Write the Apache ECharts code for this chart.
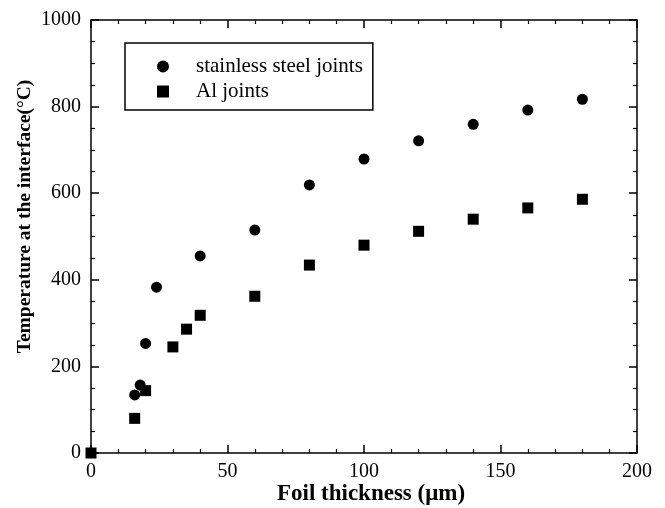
<!DOCTYPE html>
<html>
<head>
<meta charset="utf-8">
<script src="https://cdn.jsdelivr.net/npm/echarts@6/dist/echarts.min.js"></script>
<style>
  html, body { margin: 0; padding: 0; background: #fff; }
  #chart { width: 665px; height: 508px; }
</style>
</head>
<body>
<div id="chart"></div>
<script>
// foil thickness (um) vs temperature at the interface (C)
const steelThickness = [16, 18, 20, 24, 40, 60, 80, 100, 120, 140, 160, 180]
const steelTemp = [134, 157, 253, 383, 455, 515, 619, 679, 721, 759, 792, 817]
const alThickness = [0, 16, 20, 30, 35, 40, 60, 80, 100, 120, 140, 160, 180]
const alTemp = [0, 80, 144, 245, 286, 318, 362, 434, 480, 512, 540, 566, 586]

const serif = 'Liberation Serif'
const black = '#000'

function pairs(xs, ys) {
  return xs.map((x, i) => [x, ys[i]])
}

function frameAxis(extra) {
  return Object.assign({
    type: 'value',
    axisLine: { show: true, onZero: false, lineStyle: { color: black, width: 1.5 } },
    axisTick: { show: true, inside: true, length: 8, lineStyle: { color: black, width: 1.5 } },
    splitLine: { show: false },
    axisLabel: { show: false }
  }, extra)
}

const tickLabel = { color: black, fontFamily: serif, fontSize: 20, formatter: v => String(v) }

const chart = echarts.init(document.getElementById('chart'))
chart.setOption({
  animation: false,
  backgroundColor: '#fff',
  grid: { left: 91, right: 28, top: 20, bottom: 55, containLabel: false, outerBoundsMode: 'none' },
  legend: {
    left: 125,
    top: 43,
    orient: 'vertical',
    backgroundColor: '#fff',
    borderColor: black,
    borderWidth: 1.5,
    padding: [13, 10, 8, 32],
    itemGap: 4,
    itemWidth: 12,
    itemHeight: 12,
    textStyle: { color: black, fontFamily: serif, fontSize: 21, padding: [0, 0, 0, 22] },
    data: [
      { name: 'stainless steel joints', icon: 'circle' },
      { name: 'Al joints', icon: 'rect' }
    ]
  },
  xAxis: [
    frameAxis({
      min: 0, max: 200, interval: 50,
      minorTick: { show: true, splitNumber: 5, length: 4, lineStyle: { color: black, width: 1.2 } },
      axisLabel: Object.assign({ margin: 9 }, tickLabel),
      name: 'Foil thickness (\u03bcm)',
      nameLocation: 'middle',
      nameMoveOverlap: false,
      nameGap: 30,
      nameTextStyle: { color: black, fontFamily: serif, fontSize: 23, fontWeight: 'bold', padding: [0, 0, 0, 14] }
    }),
    frameAxis({
      position: 'top', min: 0, max: 200, interval: 50,
      minorTick: { show: true, splitNumber: 5, length: 4, lineStyle: { color: black, width: 1.2 } }
    })
  ],
  yAxis: [
    frameAxis({
      min: 0, max: 1000, interval: 200,
      minorTick: { show: true, splitNumber: 4, length: 4, lineStyle: { color: black, width: 1.2 } },
      axisLabel: Object.assign({ margin: 10 }, tickLabel),
      name: 'Temperature at the interface(\u00b0C)',
      nameLocation: 'middle',
      nameMoveOverlap: false,
      nameGap: 56,
      nameTextStyle: { color: black, fontFamily: serif, fontSize: 19.5, fontWeight: 'bold', padding: [0, 0, 0, 40] }
    }),
    frameAxis({
      position: 'right', min: 0, max: 1000, interval: 200,
      minorTick: { show: true, splitNumber: 4, length: 4, lineStyle: { color: black, width: 1.2 } }
    })
  ],
  series: [
    {
      name: 'stainless steel joints',
      type: 'scatter',
      symbol: 'circle',
      symbolSize: 11,
      itemStyle: { color: black, opacity: 1 },
      data: pairs(steelThickness, steelTemp)
    },
    {
      name: 'Al joints',
      type: 'scatter',
      symbol: 'rect',
      symbolSize: 11,
      itemStyle: { color: black, opacity: 1 },
      data: pairs(alThickness, alTemp)
    }
  ]
})
</script>
</body>
</html>
